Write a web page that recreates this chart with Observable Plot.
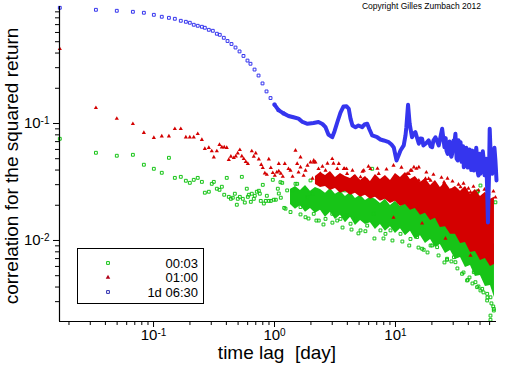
<!DOCTYPE html>
<html><head><meta charset="utf-8">
<script src="https://cdn.jsdelivr.net/npm/d3@7"></script>
<script src="https://cdn.jsdelivr.net/npm/@observablehq/plot@0.6"></script>
<style>body{margin:0;background:#fff;overflow:hidden}</style>
</head><body>
<script>
// ---- data (lag in days, correlation) ----
const blueLag = [0.0168,0.0334,0.0497,0.0675,0.0832,0.1006,0.117,0.134,0.150,0.168,
0.185,0.1995,0.215,0.232,0.251,0.2655,0.2864,0.309,0.3336,0.353,
0.381,0.409,0.441,0.476,0.514,0.554,0.598,0.633,0.684,0.738,
0.796,0.859,0.927,1.0,1.079,1.187,1.305,1.436,1.579,1.704,
1.874,2.10,2.31,2.49,2.64,2.79,3.00,3.13,3.32,3.51,
3.72,3.94,4.11,4.25,4.41,4.67,4.94,5.31,5.54,5.84,
6.10,6.42,7.06,7.51,8.00,8.80,9.27,9.68,10.0,10.2,
10.6,11.0,11.7,12.1,12.3,12.7,13.1,13.7,14.1,14.6,
15.6,16.1,16.6,17.0,17.7,18.8,19.5,20.1,20.6,21.4,
22.8,23.5,24.3,25.4,26.4,27.6,28.5,29.4,30.2,31.3,
32.7,33.8,34.5,35.8,36.7,37.9,39.1,40.1,41.7,42.9,
44.4,45.8,47.3,48.5,50.4,51.8,53.7,55.4,57.3,58.1,
59.3,60.1,61.5,63.0,64.6,67.0,68.4,
26.0,27.0,28.0,29.0,30.7,32.0,33.2,35.2,36.2,37.3,
38.5,39.6,40.9,42.3,43.6,45.1,46.5,47.9,49.4,51.1,
52.7,54.5,56.3,62.2,65.8,67.7];
const blueVal = [0.975,0.937,0.919,0.901,0.884,0.849,0.817,0.80,0.785,0.755,
0.740,0.726,0.698,0.684,0.671,0.658,0.632,0.620,0.585,0.573,
0.540,0.507,0.478,0.446,0.413,0.378,0.345,0.324,0.289,0.257,
0.220,0.188,0.165,0.145,0.130,0.122,0.116,0.113,0.110,0.103,
0.0994,0.101,0.103,0.099,0.093,0.0805,0.0763,0.0855,0.104,0.124,
0.140,0.1406,0.1336,0.110,0.0961,0.093,0.0961,0.093,0.098,0.0994,
0.0889,0.0790,0.0763,0.073,0.0716,0.0692,0.0661,0.0624,0.0533,0.0483,
0.0533,0.0588,0.0649,0.0790,0.093,0.1445,0.0994,0.0763,0.0821,0.0843,
0.0671,0.0744,0.074,0.0649,0.0671,0.0716,0.0636,0.0627,0.0716,0.0763,
0.0649,0.0759,0.0901,0.0627,0.0588,0.0588,0.0543,0.0551,0.0716,0.0816,
0.0483,0.0611,0.0692,0.0533,0.0423,0.0502,0.0568,0.0455,0.0483,0.0588,
0.0397,0.0464,0.0515,0.0359,0.0372,0.0502,0.0483,0.0359,0.0268,0.01425,
0.0359,0.0901,0.0483,0.0372,0.0533,0.0483,0.0326,
0.075,0.055,0.070,0.052,0.068,0.050,0.072,0.047,0.064,0.044,
0.062,0.042,0.060,0.040,0.058,0.040,0.062,0.038,0.055,0.040,
0.058,0.036,0.050,0.040,0.062,0.040];

const greenLag = [0.0168,0.0334,0.0497,0.0675,0.0832,0.1006,0.117,0.134,0.150,0.168,
0.185,0.1995,0.215,0.232,0.251,0.2655,0.2864,0.303,0.315,0.3336,
0.351,0.367,0.384,0.403,0.419,0.436,0.452,0.470,0.488,0.497,
0.517,0.537,0.547,0.568,0.590,0.602,0.613,0.637,0.649,0.674,
0.687,0.714,0.742,0.756,0.770,0.800,0.816,0.847,0.864,0.897,
0.932,0.968,0.987,1.025,1.065,1.085,1.127,1.158,1.203,1.233,
1.356,1.40,1.491,1.640,1.804,1.984,2.11,2.32,2.64,3.00,
3.30,3.51,3.86,3.98,4.25,4.67,5.14,5.84,6.42,6.62,
7.51,8.26,9.09,11.0,13.3,15.1,16.6,19.5,22.1,26.7,
30.4,35.5,39.1,44.4,47.3,52.1,57.3,61.0,65.0,67.0,
47.3,52.1,50.4,17.1,26.7,31.3,39.6,45.8,50.4,57.3,
64.3,61.0,65.0,61.0,1.12,1.273,1.54,1.864,2.05,3.62,
3.86,10.6,14.6,18.8,30.4,48.0,20.1,
1.640,1.91,2.22,2.54,3.01,3.65,4.33,4.94,5.64,6.70,
7.96,9.44,11.4,13.0,15.5,18.4,22.7,25.4,29.0,32.5,
36.5,40.9,43.3,48.5,53.4,57.6,62.1];
const greenVal = [0.074,0.0562,0.053,0.054,0.0444,0.041,0.0379,0.0509,0.0343,0.035,
0.0324,0.0311,0.033,0.0343,0.0317,0.0256,0.0261,0.0305,0.0317,0.0277,
0.0271,0.0288,0.0246,0.0343,0.0236,0.0227,0.0232,0.0251,0.0202,0.0227,
0.0236,0.035,0.0227,0.0211,0.0277,0.0236,0.0246,0.0214,0.0251,0.0227,
0.0241,0.0261,0.0266,0.0251,0.0218,0.0299,0.0207,0.0218,0.0241,0.0218,
0.0218,0.033,0.0223,0.0223,0.0277,0.0252,0.0232,0.0311,0.019,0.0187,
0.0175,0.0268,0.0305,0.0193,0.0158,0.0326,0.0169,0.0148,0.0153,0.0169,
0.0148,0.0153,0.0268,0.0164,0.0139,0.0153,0.0122,0.0134,0.041,0.0169,
0.0122,0.0114,0.0122,0.0114,0.0103,0.0107,0.0085,0.00906,0.00877,0.00698,
0.0072,0.00519,0.00455,0.00536,0.00399,0.00386,0.0035,0.00327,0.0026,0.0212,
0.0259,0.0515,0.0295,0.00833,0.00684,0.00652,0.00461,0.0044,0.00374,0.00307,
0.00273,0.00228,0.00252,0.0021,0.0315,0.0268,0.0305,0.0234,0.0251,0.0268,
0.0286,0.0212,0.0220,0.0187,0.0175,0.0264,0.00906,
0.0167,0.0154,0.0148,0.0137,0.0142,0.0129,0.0124,0.0115,0.0120,0.0104,
0.0104,0.0100,0.0098,0.00906,0.0087,0.0079,0.00745,0.00649,0.00662,0.00577,
0.00533,0.00483,0.00429,0.00405,0.0036,0.00326,0.0029];

const redLag = [0.0168,0.0334,0.0497,0.0675,0.0832,0.1006,0.117,0.134,0.150,0.168,
0.185,0.1995,0.215,0.232,0.251,0.2655,0.2864,0.303,0.315,0.3336,
0.351,0.367,0.384,0.403,0.419,0.436,0.461,0.479,0.497,0.517,
0.537,0.557,0.579,0.602,0.649,0.674,0.700,0.742,0.777,0.800,
0.832,0.864,0.897,0.932,0.968,1.006,1.045,1.085,1.127,1.171,
1.216,1.356,1.491,1.54,1.640,1.804,1.984,2.18,2.40,2.64,
3.00,3.30,3.62,3.98,4.52,4.97,5.47,5.84,6.62,7.27,
8.00,10.3,11.7,12.9,14.2,15.6,17.1,19.5,22.1,25.2,
28.5,31.3,34.5,39.1,44.4,48.8,53.7,61.0,67.0,1.640,
2.11,3.40,3.74,5.14,12.5,15.6,17.7,30.4,37.9,47.3,
50.4,1.085,2.11,3.94,6.21,13.3,18.8,25.2,34.5,41.7,
9.63,16.6,25.9,41.7,1.305,1.41,1.58,1.74,1.874,2.06,
2.31,2.49,2.74,
2.49,3.07,3.79,4.41,5.34,5.98,7.10,8.43,9.63,11.2,
13.6,14.9,18.0,20.6,24.0,26.9,29.6,33.2,36.5,40.1,
44.1,48.5,54.4,58.7,64.5];
const redVal = [0.435,0.136,0.110,0.0994,0.0833,0.0755,0.0779,0.0779,0.0901,0.0901,
0.0763,0.0763,0.0763,0.0816,0.0726,0.0608,0.062,0.058,0.0515,0.058,
0.0658,0.0627,0.0627,0.062,0.049,0.0522,0.0509,0.0525,0.0557,0.0596,
0.0525,0.0499,0.0471,0.0453,0.058,0.0522,0.0557,0.0495,0.0444,0.0418,
0.0376,0.0366,0.0495,0.0418,0.0379,0.0359,0.0383,0.0391,0.0374,0.0352,
0.0453,0.0397,0.0588,0.0453,0.0423,0.0397,0.0467,0.0467,0.0372,0.0397,
0.0499,0.041,0.0348,0.0372,0.0348,0.0326,0.0397,0.0326,0.0277,0.0372,
0.0286,0.0315,0.0326,0.0372,0.0423,0.0326,0.0305,0.0326,0.0286,0.0305,
0.0268,0.0259,0.0251,0.0234,0.0220,0.0212,0.0234,0.0206,0.0234,0.0515,
0.0467,0.0453,0.041,0.0348,0.0372,0.0423,0.0337,0.0268,0.0234,0.0220,
0.0193,0.0453,0.0483,0.041,0.041,0.0397,0.0337,0.0315,0.0286,0.0259,
0.0157,0.014,0.0104,0.00745,0.041,0.0352,0.0382,0.0359,0.0438,0.0339,
0.041,0.0326,0.0455,
0.0429,0.0455,0.0412,0.0397,0.0389,0.0429,0.0412,0.0405,0.0438,0.0421,
0.0397,0.0412,0.0382,0.0366,0.0345,0.0339,0.0320,0.0301,0.0307,0.0278,
0.0289,0.0268,0.0273,0.0253,0.0263];

// dense cores of the clouds (upper / lower envelope)
const greenCoreLag = [1.356,1.491,1.640,1.804,1.984,2.18,2.40,2.64,2.90,3.19,
3.51,3.86,4.25,4.67,5.14,5.65,6.21,6.83,7.51,8.26,
9.09,10,11.0,12.1,13.3,14.6,16.1,17.7,19.5,21.4,
23.5,25.9,28.5,31.3,34.5,37.9,41.7,45.8,50.4,55.4,61.0,65.8];
const greenCoreHi = [0.0273,0.0289,0.0268,0.0295,0.0263,0.0284,0.0273,0.0253,0.0278,0.0248,
0.0263,0.0238,0.0258,0.0229,0.0243,0.0220,0.0234,0.0225,0.0207,0.0225,
0.0199,0.0216,0.0195,0.0207,0.0191,0.0199,0.0185,0.0195,0.0177,0.0185,
0.0167,0.0177,0.0158,0.0167,0.0148,0.0151,0.0131,0.0137,0.0117,0.0115,0.0100,0.00924];
const greenCoreLo = [0.0203,0.0185,0.0199,0.0174,0.0188,0.0171,0.0181,0.0158,0.0174,0.0151,
0.0164,0.0142,0.0158,0.0134,0.0148,0.0137,0.0142,0.0124,0.0137,0.0120,
0.0131,0.0115,0.0126,0.0110,0.0120,0.0102,0.0110,0.00943,0.0102,0.0087,
0.00924,0.00775,0.00822,0.00688,0.00716,0.00587,0.00611,0.00492,0.00502,0.00405,0.00413,0.00326];
const redCoreLag = [2.18,2.40,2.64,2.90,3.19,3.51,3.86,4.25,4.67,5.14,
5.65,6.21,6.83,7.51,8.26,9.09,10,11.0,12.1,13.3,
14.6,16.1,17.7,19.5,21.4,23.5,25.9,28.5,31.3,34.5,
37.9,41.7,45.8,50.4,55.4,61.0,65.8];
const redCoreHi = [0.0352,0.0382,0.0359,0.0389,0.0345,0.0374,0.0352,0.0339,0.0366,0.0326,
0.0352,0.0320,0.0366,0.0332,0.0359,0.0326,0.0374,0.0345,0.0382,0.0332,
0.0352,0.0313,0.0339,0.0295,0.0326,0.0284,0.0313,0.0273,0.0289,0.0263,
0.0289,0.0248,0.0273,0.0238,0.0258,0.0225,0.0234];
const redCoreLo = [0.0301,0.0284,0.0289,0.0268,0.0278,0.0253,0.0263,0.0243,0.0253,0.0234,
0.0243,0.0225,0.0234,0.0216,0.0225,0.0207,0.0216,0.0195,0.0203,0.0181,
0.0188,0.0164,0.0171,0.0148,0.0155,0.0129,0.0131,0.0113,0.0113,0.00943,
0.0096,0.0079,0.00806,0.00675,0.00703,0.00599,0.00623];

const xMajorTicks = [0.1, 1, 10];
const xMinorTicks = [0.02,0.03,0.04,0.05,0.06,0.07,0.08,0.09,0.2,0.3,0.4,0.5,0.6,0.7,0.8,0.9,2,3,4,5,6,7,8,9,20,30,40,50,60];
const yMajorTicks = [0.1, 0.01];
const yMinorTicks = [0.003,0.004,0.005,0.006,0.007,0.008,0.009,0.02,0.03,0.04,0.05,0.06,0.07,0.08,0.09,0.2,0.3,0.4,0.5,0.6,0.7,0.8,0.9];
const seriesNames = ["00:03", "01:00", "1d 06:30"];
const xTitle = "time lag  [day]";
const yTitle = "correlation for the squared return";
const copyright = "Copyright Gilles Zumbach 2012";

const GREEN = "#17c417", RED = "#d40000", BLUE = "#3535ee";
const rows = (a, b) => a.map((v, i) => ({lag: v, val: b[i]}));
const band = (a, lo, hi) => a.map((v, i) => ({lag: v, lo: lo[i], hi: hi[i]}));
const blue = d3.sort(rows(blueLag, blueVal), d => d.lag);
const green = rows(greenLag, greenVal), red = rows(redLag, redVal);
const greenCore = band(greenCoreLag, greenCoreLo, greenCoreHi);
const redCore = band(redCoreLag, redCoreLo, redCoreHi);
const X0 = 0.0167, X1 = 68.4, Y0 = 0.00203, Y1 = 1.0;
const sup = d => "10^" + Math.round(Math.log10(d));

const chart = Plot.plot({
  width: 512, height: 366,
  marginLeft: 59, marginRight: 16, marginTop: 6, marginBottom: 45,
  style: {fontFamily: "'Liberation Sans', Arial, sans-serif", background: "white", color: "black"},
  x: {type: "log", domain: [X0, X1], axis: null},
  y: {type: "log", domain: [Y0, Y1], axis: null},
  marks: [
    Plot.areaY(greenCore, {x: "lag", y1: "lo", y2: "hi", fill: GREEN}),
    Plot.dot(green, {x: "lag", y: "val", symbol: "square", r: 1.6, stroke: GREEN, strokeWidth: 1, fill: "none"}),
    Plot.areaY(redCore, {x: "lag", y1: "lo", y2: "hi", fill: RED}),
    Plot.dot(red, {x: "lag", y: "val", symbol: "triangle", r: 1.55, fill: RED}),
    Plot.line(blue, {filter: d => d.lag >= 1.0, x: "lag", y: "val", stroke: BLUE, strokeWidth: 4}),
    Plot.dot(blue, {filter: d => d.lag < 1.25, x: "lag", y: "val", symbol: "square", r: 1.6, stroke: BLUE, strokeWidth: 1, fill: "none"}),
    Plot.ruleX([X0], {stroke: "black", strokeWidth: 1.2}),
    Plot.ruleY([Y0], {stroke: "black", strokeWidth: 1.2}),
    Plot.axisX({ticks: xMinorTicks, tickSize: 4, tickFormat: () => "", label: null, stroke: "black"}),
    Plot.axisX({ticks: xMajorTicks, tickSize: 6, tickPadding: 2, tickFormat: sup, label: null, fontSize: 15, stroke: "black"}),
    Plot.axisY({ticks: yMinorTicks, tickSize: 4, tickFormat: () => "", label: null, stroke: "black"}),
    Plot.axisY({ticks: yMajorTicks, tickSize: 6, tickPadding: 4, tickFormat: sup, label: null, fontSize: 15, stroke: "black"})
  ]
});
document.body.appendChild(chart);

// superscript tick labels
const NS = "http://www.w3.org/2000/svg";
chart.querySelectorAll("text").forEach(t => {
  const m = /^10\^(-?\d+)$/.exec(t.textContent);
  if (!m) return;
  t.textContent = "";
  const a = document.createElementNS(NS, "tspan"); a.textContent = "10";
  const b = document.createElementNS(NS, "tspan"); b.textContent = m[1];
  b.setAttribute("dy", "-0.45em"); b.setAttribute("font-size", "10");
  t.setAttribute("font-size", "15");
  t.append(a, b);
});

const svg = d3.select(chart);
const font = "'Liberation Sans', Arial, sans-serif";
svg.append("text").attr("x", 277).attr("y", 359).attr("text-anchor", "middle")
  .attr("font-size", 19).attr("font-family", font).style("white-space", "pre").text(xTitle);
svg.append("text").attr("transform", "translate(18,166) rotate(-90)").attr("text-anchor", "middle")
  .attr("font-size", 19).attr("font-family", font).text(yTitle);
svg.append("text").attr("x", 481).attr("y", 9).attr("text-anchor", "end")
  .attr("font-size", 8.5).attr("font-family", font).text(copyright);

// legend
const lg = svg.append("g").attr("font-family", font);
lg.append("rect").attr("x", 77.5).attr("y", 248.5).attr("width", 126).attr("height", 55)
  .attr("fill", "white").attr("stroke", "black").attr("stroke-width", 1);
const legendSym = [
  {sym: d3.symbolSquare, size: 8, fill: "none", stroke: GREEN},
  {sym: d3.symbolTriangle, size: 9, fill: "#b00018", stroke: "none"},
  {sym: d3.symbolSquare, size: 8, fill: "none", stroke: "#3030b0"}
];
const rowY = [263, 277.5, 292];
seriesNames.forEach((name, i) => {
  const s = legendSym[i];
  lg.append("path").attr("transform", `translate(108,${rowY[i]})`)
    .attr("d", d3.symbol(s.sym, s.size)()).attr("fill", s.fill).attr("stroke", s.stroke);
  lg.append("text").attr("x", 198).attr("y", rowY[i]).attr("dy", "0.35em")
    .attr("text-anchor", "end").attr("font-size", 13).text(name);
});
</script>
</body></html>
